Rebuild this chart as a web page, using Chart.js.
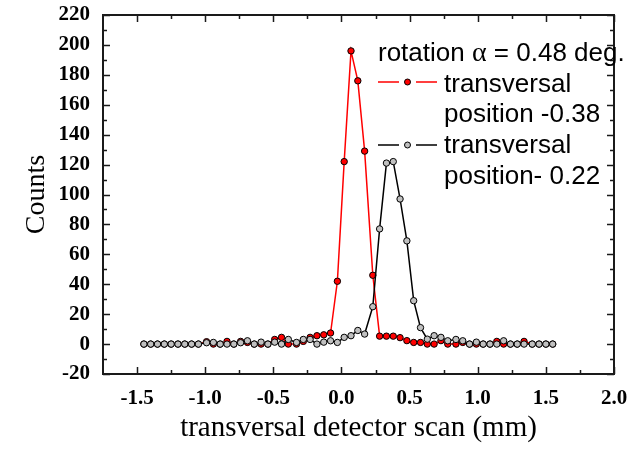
<!DOCTYPE html>
<html lang="en">
<head>
<meta charset="UTF-8">
<title>Transversal detector scan</title>
<script src="https://cdn.jsdelivr.net/npm/chart.js"></script>
<style>
  html, body { margin: 0; padding: 0; background: #fff; }
</style>
</head>
<body>
<canvas id="viz" width="631" height="450"></canvas>
<script>
// scan positions (mm), both scans share them
const scanX = [-1.45, -1.40, -1.35, -1.30, -1.25, -1.20, -1.15, -1.10, -1.05, -0.99,
  -0.94, -0.89, -0.84, -0.79, -0.74, -0.69, -0.64, -0.59, -0.54, -0.49,
  -0.44, -0.39, -0.33, -0.28, -0.23, -0.18, -0.13, -0.08, -0.03, 0.02,
  0.07, 0.12, 0.17, 0.23, 0.28, 0.33, 0.38, 0.43, 0.48, 0.53,
  0.58, 0.63, 0.68, 0.73, 0.78, 0.84, 0.89, 0.94, 0.99, 1.04,
  1.09, 1.14, 1.19, 1.24, 1.29, 1.34, 1.40, 1.45, 1.50, 1.55]

// transversal position -0.38 (red)
const countsA = [0, 0, 0, 0, 0, 0, 0, 0, 0, 1.6,
  0, 0, 1.8, 0, 1.8, 1.1, 0, 0, 0, 3.1,
  4.5, 0, 0, 1.8, 4.5, 5.6, 6.2, 7.4, 42, 122,
  196, 176, 129, 46, 5.3, 5.3, 5.3, 4.3, 2.3, 1.1,
  1.1, 0, 0, 2.3, 0, 0, 1.1, 0, 0, 0,
  0, 1.8, 0, 0, 0, 1.8, 0, 0, 0, 0]

// transversal position 0.22 (grey)
const countsB = [0, 0, 0, 0, 0, 0, 0, 0, 0, 0.9,
  1.1, 0, 0, 0, 0.9, 2.2, 0, 1.3, 0, 1.3,
  0, 3.1, 1.1, 3.1, 3.1, 0, 1.3, 2.2, 1.1, 4.5,
  5.6, 9.1, 6.7, 25, 77, 121, 122, 97, 69, 29,
  11, 3.3, 5.6, 4.5, 2.2, 3.1, 2.2, 0, 1.3, 0,
  0, 0, 2.2, 0, 0, 0, 0, 0, 0, 0]

const xTicks = [-1.5, -1.0, -0.5, 0.0, 0.5, 1.0, 1.5, 2.0]
const yTicks = [-20, 0, 20, 40, 60, 80, 100, 120, 140, 160, 180, 200, 220]

const serif = 'Liberation Serif'
const sans = 'Liberation Sans'

const toPoints = ys => scanX.map((x, i) => ({ x, y: ys[i] }))

const midpoints = arr => arr.slice(1).map((v, i) => (v + arr[i]) / 2)

// inward ticks on all four sides, like the original plot
const frameTicks = {
  id: 'frameTicks',
  afterDatasetsDraw(chart) {
    const { ctx, chartArea: a, scales: { x, y } } = chart
    ctx.save()
    ctx.strokeStyle = '#1a1a1a'
    ctx.lineWidth = 1.5
    ctx.beginPath()
    const tickX = (v, len) => {
      const px = Math.round(x.getPixelForValue(v)) + 0.5
      ctx.moveTo(px, a.bottom); ctx.lineTo(px, a.bottom - len)
      ctx.moveTo(px, a.top); ctx.lineTo(px, a.top + len)
    }
    const tickY = (v, len) => {
      const py = Math.round(y.getPixelForValue(v)) + 0.5
      ctx.moveTo(a.left, py); ctx.lineTo(a.left + len, py)
      ctx.moveTo(a.right, py); ctx.lineTo(a.right - len, py)
    }
    xTicks.forEach(v => tickX(v, 7))
    midpoints(xTicks).forEach(v => tickX(v, 4))
    yTicks.forEach(v => tickY(v, 7))
    midpoints(yTicks).forEach(v => tickY(v, 4))
    ctx.stroke()
    ctx.lineWidth = 2
    ctx.strokeRect(a.left, a.top, a.right - a.left, a.bottom - a.top)
    ctx.restore()
  }
}

// legend block inside the plot
const legendBox = {
  id: 'legendBox',
  afterDraw(chart) {
    const ctx = chart.ctx
    ctx.save()
    ctx.fillStyle = '#000'
    ctx.textBaseline = 'alphabetic'
    ctx.font = `26px "${sans}"`
    let tx = 378
    ctx.fillText('rotation ', tx, 61)
    tx += ctx.measureText('rotation ').width
    ctx.font = `28px "${serif}"`
    ctx.fillText('\u03b1', tx, 61)
    tx += ctx.measureText('\u03b1').width
    ctx.font = `26px "${sans}"`
    ctx.fillText(' = 0.48 deg.', tx, 61)

    const sample = (yy, line, fill) => {
      ctx.strokeStyle = line
      ctx.lineWidth = 1.5
      ctx.beginPath()
      ctx.moveTo(378, yy); ctx.lineTo(399, yy)
      ctx.moveTo(416, yy); ctx.lineTo(437, yy)
      ctx.stroke()
      ctx.beginPath()
      ctx.arc(407.5, yy, 3, 0, Math.PI * 2)
      ctx.fillStyle = fill
      ctx.fill()
      ctx.strokeStyle = '#000'
      ctx.lineWidth = 1
      ctx.stroke()
    }
    sample(82, '#ff0000', '#ff0000')
    sample(145, '#000000', '#c0c0c0')

    ctx.fillStyle = '#000'
    ctx.fillText('transversal', 444, 92)
    ctx.fillText('position -0.38', 444, 122)
    ctx.fillText('transversal', 444, 153)
    ctx.fillText('position- 0.22', 444, 184)
    ctx.restore()
  }
}

const chart = new Chart(document.getElementById('viz'), {
  type: 'line',
  data: {
    datasets: [{
      label: 'transversal position- 0.22',
      data: toPoints(countsB),
      borderColor: '#000000',
      borderWidth: 1.5,
      pointBackgroundColor: '#c0c0c0',
      pointBorderColor: '#000000',
      pointBorderWidth: 1,
      pointRadius: 3.2,
      tension: 0
    }, {
      label: 'transversal position -0.38',
      data: toPoints(countsA),
      borderColor: '#ff0000',
      borderWidth: 1.5,
      pointBackgroundColor: '#ff0000',
      pointBorderColor: '#000000',
      pointBorderWidth: 1,
      pointRadius: 3.2,
      tension: 0
    }]
  },
  options: {
    responsive: false,
    animation: false,
    devicePixelRatio: 1,
    layout: { padding: { top: 15, right: 17, left: 0, bottom: 0 } },
    plugins: { legend: { display: false }, tooltip: { enabled: false } },
    scales: {
      x: {
        type: 'linear',
        min: -1.75,
        max: 2.0,
        afterBuildTicks: s => { s.ticks = xTicks.map(v => ({ value: v })) },
        afterFit: s => { s.height = 76; s.paddingLeft = 0; s.paddingRight = 0 },
        grid: { display: false, drawTicks: false },
        border: { display: false },
        ticks: {
          color: '#000',
          padding: 12,
          maxRotation: 0,
          font: { family: serif, weight: 'bold', size: 21 },
          callback: v => v.toFixed(1)
        },
        title: {
          display: true,
          text: 'transversal detector scan (mm)',
          color: '#000',
          padding: { top: 0, bottom: 4 },
          font: { family: serif, size: 29 }
        }
      },
      y: {
        min: -20,
        max: 220,
        afterBuildTicks: s => { s.ticks = yTicks.map(v => ({ value: v })) },
        afterFit: s => { s.width = 103; s.paddingTop = 0; s.paddingBottom = 0 },
        grid: { display: false, drawTicks: false },
        border: { display: false },
        ticks: {
          color: '#000',
          padding: 13,
          font: { family: serif, weight: 'bold', size: 21 },
          callback: v => String(v)
        },
        title: {
          display: true,
          text: 'Counts',
          color: '#000',
          padding: { top: 20, bottom: 0 },
          font: { family: serif, size: 28 }
        }
      }
    }
  },
  plugins: [frameTicks, legendBox]
})
</script>
</body>
</html>
